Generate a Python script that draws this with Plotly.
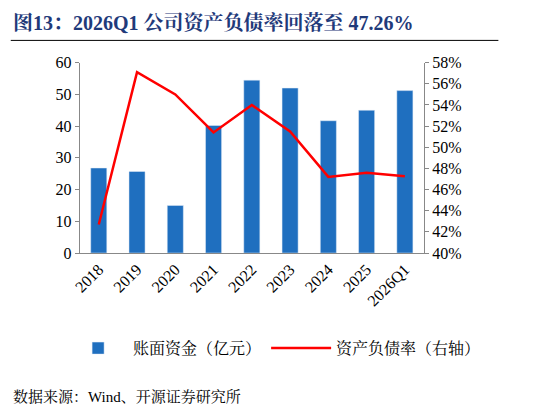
import plotly.graph_objects as go

years = ["2018", "2019", "2020", "2021", "2022", "2023", "2024", "2025", "2026Q1"]
cash = [26.8, 25.7, 15.0, 40.2, 54.5, 52.0, 41.7, 45.0, 51.2]
debt_ratio = [42.7, 57.1, 55.0, 51.4, 54.0, 51.5, 47.2, 47.6, 47.26]

title = "图13：2026Q1 公司资产负债率回落至 47.26%"
source = "数据来源：Wind、开源证券研究所"

serif = "Times New Roman, Liberation Serif, Noto Serif CJK SC, Noto Sans CJK SC"

fig = go.Figure()
fig.add_trace(go.Bar(x=years, y=cash, name="账面资金（亿元）",
                     marker_color="#1F6FBF", width=0.42))
fig.add_trace(go.Scatter(x=years, y=debt_ratio, name="资产负债率（右轴）",
                         yaxis="y2", mode="lines",
                         line=dict(color="#FF0000", width=2.5)))

axis_font = dict(family=serif, size=16, color="black")
fig.update_layout(
    width=551, height=405,
    margin=dict(l=0, r=0, t=0, b=0),
    plot_bgcolor="white", paper_bgcolor="white",
    showlegend=True,
    legend=dict(orientation="h", x=0.1, y=0.16, xanchor="left", yanchor="middle",
                font=dict(family=serif, size=16, color="black"),
                itemwidth=60, tracegroupgap=0),
    xaxis=dict(domain=[0.13, 0.755], tickangle=-45, tickfont=axis_font,
               showline=True, linecolor="#888", ticks="", anchor="y",
               automargin=False),
    yaxis=dict(domain=[0.395, 0.865], range=[0, 60], dtick=10, tickfont=axis_font,
               showline=True, linecolor="#888", ticks="outside", ticklen=4,
               tickcolor="#888", showgrid=False, zeroline=False, automargin=False),
    yaxis2=dict(overlaying="y", side="right", range=[40, 58], dtick=2,
                ticksuffix="%", tickfont=axis_font, showline=True, linecolor="#888",
                ticks="outside", ticklen=4, tickcolor="#888", showgrid=False,
                anchor="x", automargin=False),
    annotations=[
        dict(text="<b>" + title + "</b>", x=0.005, y=0.995, xref="paper", yref="paper",
             xanchor="left", yanchor="top", showarrow=False,
             font=dict(family=serif, size=20, color="#1F3A7A")),
        dict(text=source, x=0.005, y=0.015, xref="paper", yref="paper",
             xanchor="left", yanchor="bottom", showarrow=False,
             font=dict(family=serif, size=15, color="black")),
    ],
    shapes=[
        dict(type="line", xref="paper", yref="paper", x0=0.005, x1=0.89,
             y0=0.92, y1=0.92, line=dict(color="black", width=1)),
    ],
)

fig.write_html("out.html")
